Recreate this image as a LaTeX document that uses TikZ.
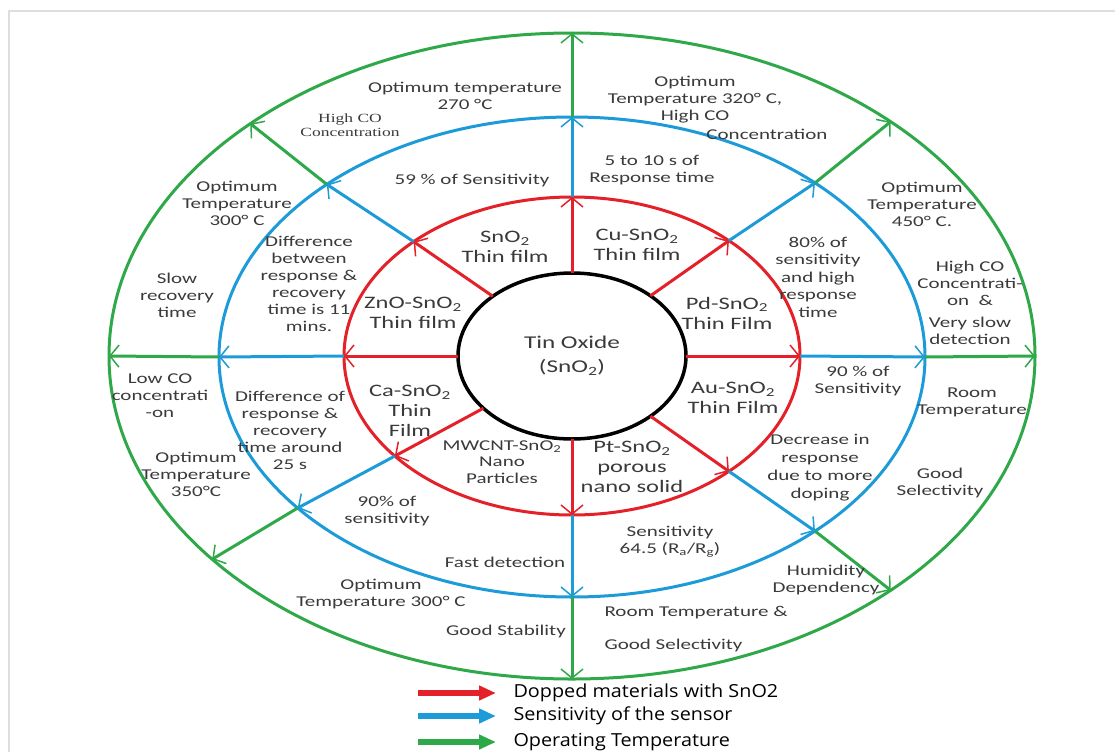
\documentclass[tikz,border=0pt]{standalone}
\usepackage{fontspec}
\setmainfont{Carlito}[FakeStretch=1.4]
\newfontfamily\keyfont{Open Sans}[FakeStretch=1.1]
\newfontfamily\cofont{Liberation Serif}[FakeStretch=1.4]
\usepackage{xcolor}
\usepackage{tikz}
\usetikzlibrary{shapes.geometric, arrows.meta}
\definecolor{dopred}{RGB}{228,32,40}
\definecolor{sensblue}{RGB}{29,155,216}
\definecolor{tempgreen}{RGB}{46,168,72}
\definecolor{labelgray}{RGB}{58,58,58}
\definecolor{framegray}{RGB}{222,222,222}
\tikzset{
every picture/.style={line width=3pt},
%%%%%%%%%%  Node styles
ring_txt/.style={align=center, text=labelgray, inner sep=0pt,
                 font=\fontsize{15}{17}\selectfont},
co_txt/.style={align=center, text=labelgray, inner sep=0pt,
               font=\cofont\fontsize{12.5}{14}\selectfont},
core_txt/.style={align=center, text=labelgray, inner sep=0pt,
                 font=\fontsize{17.5}{20}\selectfont},
key_txt/.style={anchor=west, inner sep=0pt,
                font=\keyfont\fontsize{18}{20}\selectfont},
tinoxide/.style={ellipse, draw, line width=3.5pt, align=center, text=labelgray,
                 minimum width=228pt, minimum height=166pt,
                 font=\fontsize{18}{24}\selectfont},
%%%% ring lines and spokes
ring/.style={line width=3pt},
spoke_tip/.style={-{Straight Barb[length=9pt,width=22pt,line width=1.5pt]}},
dopped/.style={spoke_tip, draw=dopred},
sens/.style={spoke_tip, draw=sensblue},
optemp/.style={spoke_tip, draw=tempgreen},
key_arrow/.style={line width=5.5pt, shorten >=16pt,
                  -{Triangle[length=17pt,width=14pt]}}
}

\begin{document}
\begin{tikzpicture}[x=1pt,y=-1pt]
\useasboundingbox (0,0) rectangle (1115,752);
%%frame
\draw[framegray, line width=1.5pt] (9,752) -- (9,11) -- (1115,11);
%%%%%%%%%%%%%%%%%%%%%%%
%%the three rings
\draw[ring, tempgreen] (572,356) ellipse [x radius=463, y radius=323];
\draw[ring, sensblue] (572,357) ellipse [x radius=353, y radius=240];
\draw[ring, dopred] (572,356) ellipse [x radius=228, y radius=159];
\node[tinoxide] (tin) at (572,356) {Tin Oxide\\(SnO\textsubscript{2})};
%%%%%%%%%%%%%%%%%%%%%%%
%%spokes: tin oxide -> red -> blue -> green
\foreach \t/\n in {90/1,134/2,180/3,219/4,270/5,313.5/6,0/7,46.5/8}{
  \coordinate (k\n) at ({572+114*cos(\t)},{356-83*sin(\t)});
  \coordinate (r\n) at ({572+228*cos(\t)},{356-159*sin(\t)});
  \coordinate (b\n) at ({572+353*cos(\t)},{357-240*sin(\t)});
  \coordinate (g\n) at ({572+463*cos(\t)},{356-323*sin(\t)});
  \draw[dopped] (k\n) -- (r\n);
  \draw[sens] (r\n) -- (b\n);
  \draw[optemp] (b\n) -- (g\n);
}
%%%%%%%%%%%%%%%%%%%%%%%
%%inner ring: dopped materials
\node[core_txt] (sno2) at (505,247) {SnO\textsubscript{2}\\Thin film};
\node[core_txt] (cusno2) at (637,245) {Cu-SnO\textsubscript{2}\\Thin film};
\node[core_txt] (pdsno2) at (727,313) {Pd-SnO\textsubscript{2}\\Thin Film};
\node[core_txt] (ausno2) at (733,398) {Au-SnO\textsubscript{2}\\Thin Film};
\node[core_txt] (ptsno2) at (632,467) {Pt-SnO\textsubscript{2}\\porous\\nano solid};
\node[core_txt, font=\fontsize{15}{16.5}\selectfont] (mwcnt) at (502,462)
	{MWCNT-SnO\textsubscript{2}\\Nano\\Particles};
\node[core_txt] (casno2) at (410,411) {Ca-SnO\textsubscript{2}\\Thin\\Film};
\node[core_txt] (znosno2) at (413,313) {ZnO-SnO\textsubscript{2}\\Thin film};
%%%%%%%%%%%%%%%%%%%%%%%
%%middle ring: sensitivity
\node[ring_txt] (sens59) at (472,181) {59 \% of Sensitivity};
\node[ring_txt] (resp510) at (652,170) {5 to 10 s of\\Response time};
\node[ring_txt, font=\fontsize{15}{17.5}\selectfont] (sens80) at (818,277)
	{80\% of\\sensitivity\\and high\\response\\time};
\node[ring_txt] (sens90a) at (858,381) {90 \% of\\Sensitivity};
\node[ring_txt, font=\fontsize{15}{18}\selectfont] (decr) at (820,468)
	{Decrease in\\response\\due to more\\doping};
\node[ring_txt] (sens645) at (670,542)
	{Sensitivity\\64.5 (R\textsubscript{a}/R\textsubscript{g})};
\node[ring_txt] (fastdet) at (505,562) {Fast detection};
\node[ring_txt] (sens90b) at (387,511) {90\% of\\sensitivity};
\node[ring_txt] (diff25) at (290,430)
	{Difference of\\response \&\\recovery\\time around\\25 s};
\node[ring_txt] (diff11) at (309,284)
	{Difference\\between\\response \&\\recovery\\time is 11\\mins.};
%%%%%%%%%%%%%%%%%%%%%%%
%%outer ring: operating temperature
\node[ring_txt] (opt270) at (465,96) {Optimum temperature\\270 °C};
\node[co_txt] (highco) at (350,125) {High CO\\Concentration};
\node[ring_txt] (opt320) at (695,100) {Optimum\\Temperature 320° C,\\High CO};
\node[ring_txt] (conc320) at (767,134) {Concentration};
\node[ring_txt] (opt450) at (922,204) {Optimum\\Temperature\\450° C.};
\node[ring_txt] (slowdet) at (970,303)
	{High CO\\Concentrati-\\on\ \ \&\\[5pt]Very slow\\detection};
\node[ring_txt] (roomt) at (972,402) {Room\\Temperature};
\node[ring_txt] (goodsel) at (940,483) {Good\\Selectivity};
\node[ring_txt] (humid) at (826,580) {Humidity\\Dependency};
\node[ring_txt, align=left, anchor=west] (roomsel) at (603,629)
	{Room Temperature \&\\[16pt]Good Selectivity};
\node[ring_txt] (goodstab) at (506,631) {Good Stability};
\node[ring_txt] (opt300b) at (381,594) {Optimum\\Temperature 300° C};
\node[ring_txt] (opt350) at (196,474) {Optimum\\Temperature\\350°C};
\node[ring_txt] (lowco) at (160,396) {Low CO\\concentrati\\-on};
\node[ring_txt] (slowrec) at (177,295) {Slow\\recovery\\time};
\node[ring_txt] (opt300a) at (237,203) {Optimum\\Temperature\\300° C};
%%%%%%%%%%%%%%%%%%%%%%%
%%legend
\coordinate (keyr0) at (418,693);
\coordinate (keyb0) at (418,716);
\coordinate (keyg0) at (418,742);
\node[key_txt] (keyr) at (512,693) {Dopped materials with SnO2};
\node[key_txt] (keyb) at (512,716) {Sensitivity of the sensor};
\node[key_txt] (keyg) at (512,742) {Operating Temperature};
\draw[key_arrow, dopred] (keyr0) -- (keyr.west);
\draw[key_arrow, sensblue] (keyb0) -- (keyb.west);
\draw[key_arrow, tempgreen] (keyg0) -- (keyg.west);
\end{tikzpicture}
\end{document}
